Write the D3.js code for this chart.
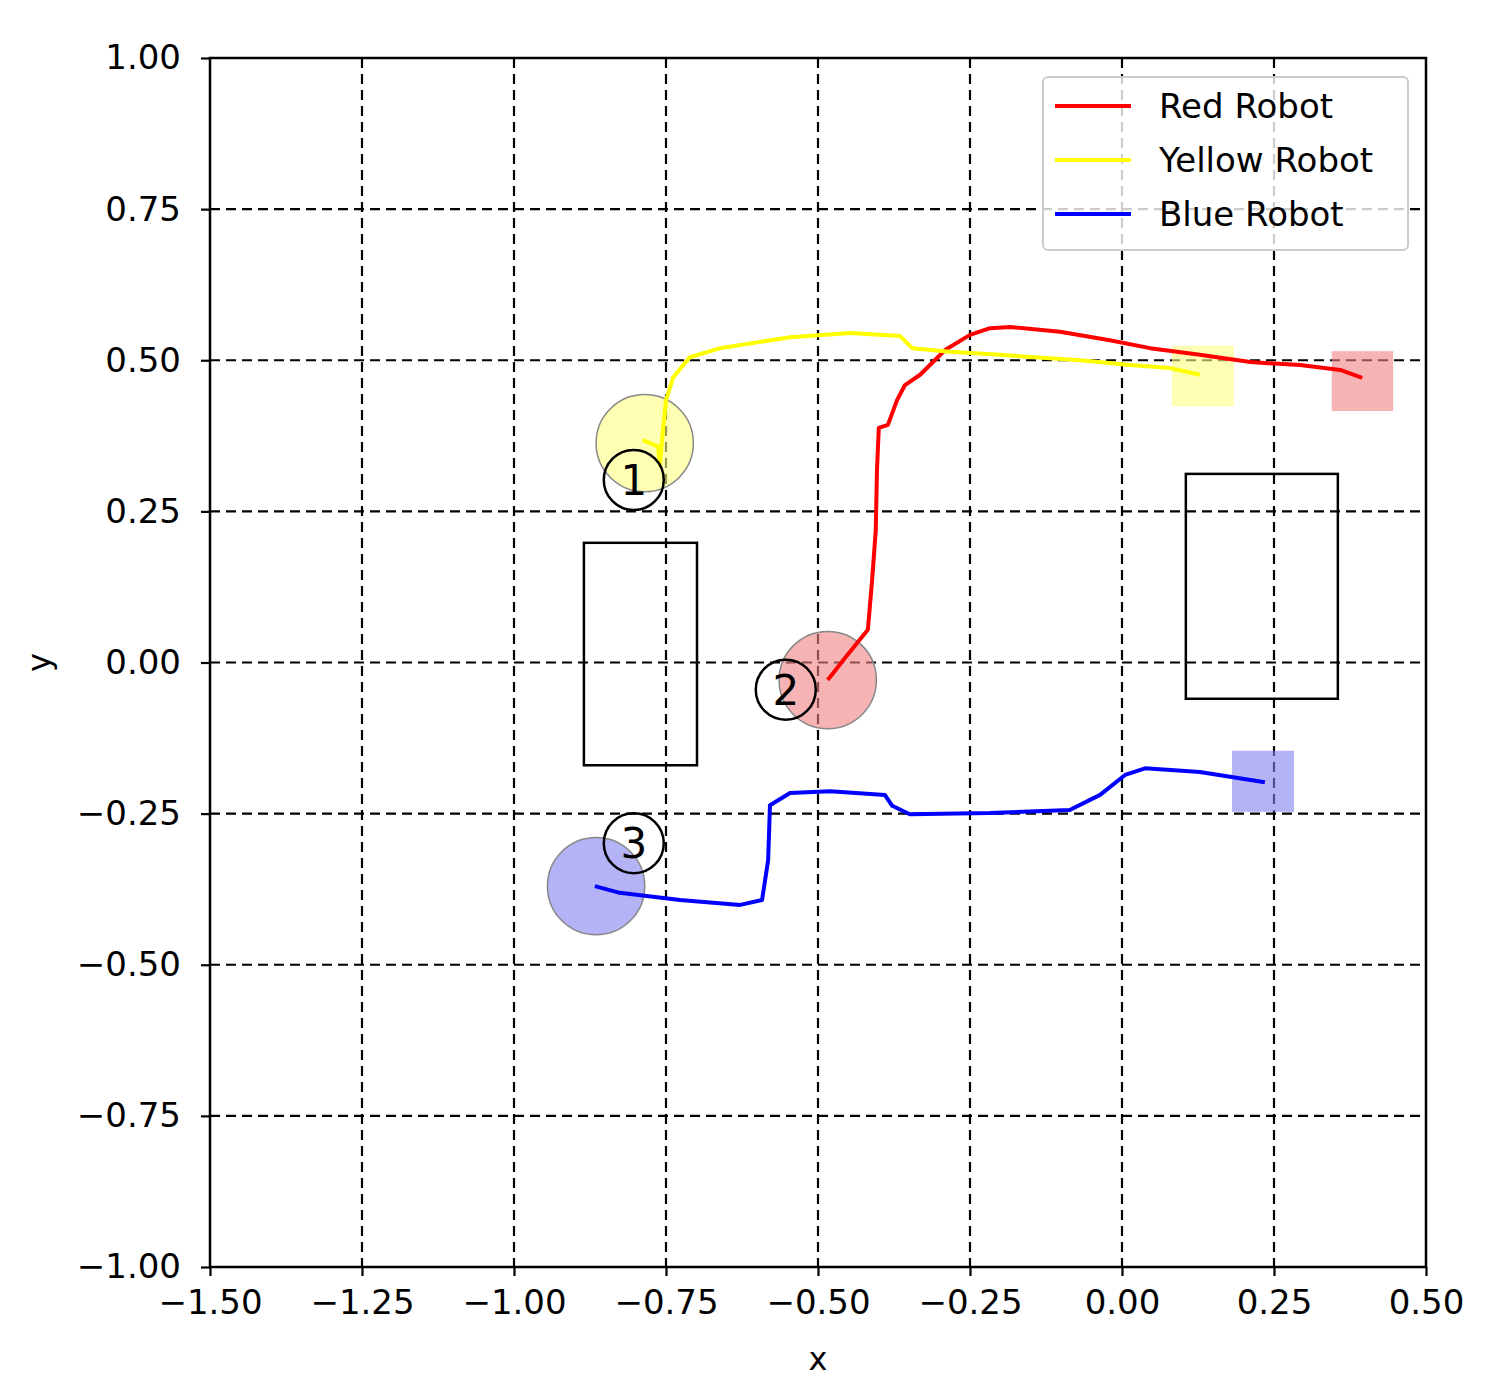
<!DOCTYPE html>
<html><head><meta charset="utf-8">
<script src="https://cdn.jsdelivr.net/npm/d3@7"></script>
<style>body{margin:0;background:#fff}svg{font-family:"DejaVu Sans",sans-serif}</style>
</head><body><div id="chart"></div>
<script>
const W = 1491, H = 1397;
const xTicks = [-1.5, -1.25, -1.0, -0.75, -0.5, -0.25, 0.0, 0.25, 0.5];
const yTicks = [-1.0, -0.75, -0.5, -0.25, 0.0, 0.25, 0.5, 0.75, 1.0];

const redPath = [[-0.484,-0.029],[-0.456,0.007],[-0.418,0.054],[-0.411,0.136],[-0.405,0.219],[-0.403,0.318],[-0.400,0.388],[-0.385,0.393],[-0.370,0.434],[-0.357,0.459],[-0.332,0.476],[-0.291,0.517],[-0.250,0.542],[-0.217,0.553],[-0.184,0.555],[-0.102,0.547],[-0.020,0.533],[0.046,0.520],[0.128,0.509],[0.211,0.497],[0.293,0.492],[0.359,0.484],[0.395,0.471]];
const yellowPath = [[-0.788,0.368],[-0.763,0.357],[-0.760,0.327],[-0.755,0.385],[-0.750,0.434],[-0.738,0.472],[-0.711,0.505],[-0.661,0.520],[-0.546,0.538],[-0.447,0.545],[-0.365,0.540],[-0.345,0.520],[-0.283,0.514],[-0.201,0.509],[-0.069,0.500],[0.013,0.492],[0.079,0.487],[0.128,0.476]];
const bluePath = [[-0.867,-0.370],[-0.826,-0.381],[-0.727,-0.393],[-0.628,-0.401],[-0.592,-0.393],[-0.582,-0.327],[-0.579,-0.236],[-0.546,-0.216],[-0.480,-0.213],[-0.390,-0.219],[-0.378,-0.237],[-0.349,-0.251],[-0.217,-0.249],[-0.086,-0.244],[-0.036,-0.219],[0.005,-0.186],[0.038,-0.175],[0.128,-0.181],[0.235,-0.198]];

const robots = ['Red Robot', 'Yellow Robot', 'Blue Robot'];
const colors = ['#ff0000', '#ffff00', '#0000ff'];
const fills = ['#f08080', '#ffff80', '#8080f0'];
const starts = [[-0.484,-0.029],[-0.785,0.363],[-0.865,-0.370]];
const goals = [[0.345,0.446,0.416,0.515],[0.082,0.184,0.424,0.524],[0.181,0.283,-0.247,-0.146]];
const obstacles = [[-0.885,-0.699,-0.170,0.198],[0.105,0.355,-0.060,0.312]];
const markers = [['1',-0.803,0.302],['2',-0.553,-0.045],['3',-0.803,-0.299]];

const m = {l: 210, r: 65, t: 58, b: 130};
const svg = d3.select('#chart').append('svg').attr('width', W).attr('height', H);
const x = d3.scaleLinear().domain([-1.5, 0.5]).range([m.l, W - m.r]);
const y = d3.scaleLinear().domain([-1, 1]).range([H - m.b, m.t]);

// grid
svg.append('g').selectAll('line').data(xTicks.slice(1, -1)).join('line')
  .attr('x1', d => x(d)).attr('x2', d => x(d)).attr('y1', y(1)).attr('y2', y(-1))
  .attr('stroke', '#000').attr('stroke-width', 2.2).attr('stroke-dasharray', '10,6');
svg.append('g').selectAll('line').data(yTicks.slice(1, -1)).join('line')
  .attr('y1', d => y(d)).attr('y2', d => y(d)).attr('x1', x(-1.5)).attr('x2', x(0.5))
  .attr('stroke', '#000').attr('stroke-width', 2.2).attr('stroke-dasharray', '10,6');

// goals & start discs
svg.append('g').selectAll('rect').data(goals).join('rect')
  .attr('x', d => x(d[0])).attr('width', d => x(d[1]) - x(d[0]))
  .attr('y', d => y(d[3])).attr('height', d => y(d[2]) - y(d[3]))
  .attr('fill', (d, i) => fills[i]).attr('opacity', 0.6);
svg.append('g').selectAll('circle').data(starts).join('circle')
  .attr('cx', d => x(d[0])).attr('cy', d => y(d[1])).attr('r', x(0.08) - x(0))
  .attr('fill', (d, i) => fills[i]).attr('fill-opacity', 0.6).attr('stroke', '#888').attr('stroke-width', 1.5);

// obstacles
svg.append('g').selectAll('rect').data(obstacles).join('rect')
  .attr('x', d => x(d[0])).attr('width', d => x(d[1]) - x(d[0]))
  .attr('y', d => y(d[3])).attr('height', d => y(d[2]) - y(d[3]))
  .attr('fill', 'none').attr('stroke', '#000').attr('stroke-width', 2.5);

// paths
const line = d3.line().x(d => x(d[0])).y(d => y(d[1]));
[redPath, yellowPath, bluePath].forEach((p, i) => {
  svg.append('path').datum(p).attr('d', line).attr('fill', 'none')
    .attr('stroke', colors[i]).attr('stroke-width', 4).attr('stroke-linejoin', 'round');
});

// numbered markers
const mk = svg.append('g').selectAll('g').data(markers).join('g')
  .attr('transform', d => `translate(${x(d[1])},${y(d[2])})`);
mk.append('circle').attr('r', 30).attr('fill', 'none').attr('stroke', '#000').attr('stroke-width', 2.5);
mk.append('text').text(d => d[0]).attr('text-anchor', 'middle').attr('dy', '0.36em')
  .attr('font-size', 42);

// axes
const xAxis = svg.append('g').attr('transform', `translate(0,${y(-1)})`)
  .call(d3.axisBottom(x).tickValues(xTicks).tickSize(9).tickPadding(14));
const yAxis = svg.append('g').attr('transform', `translate(${x(-1.5)},0)`)
  .call(d3.axisLeft(y).tickValues(yTicks).tickSize(9).tickPadding(20));
[xAxis, yAxis].forEach(a => {
  a.selectAll('text').attr('font-size', 34).attr('fill', '#000').attr('font-family', '"DejaVu Sans",sans-serif')
    .text(d => d3.format('.2f')(d).replace('-', '\u2212'));
  a.selectAll('line').attr('stroke-width', 2.2);
  a.select('.domain').remove();
});
svg.append('rect').attr('x', x(-1.5)).attr('y', y(1)).attr('width', x(0.5) - x(-1.5)).attr('height', y(-1) - y(1))
  .attr('fill', 'none').attr('stroke', '#000').attr('stroke-width', 2.5);

svg.append('text').text('x').attr('x', (x(-1.5) + x(0.5)) / 2).attr('y', 1370).attr('text-anchor', 'middle').attr('font-size', 32);
svg.append('text').text('y').attr('transform', `translate(50,${(y(1) + y(-1)) / 2}) rotate(-90)`).attr('text-anchor', 'middle').attr('font-size', 32);

// legend
const lg = svg.append('g').attr('transform', 'translate(1043,77)');
lg.append('rect').attr('width', 365).attr('height', 173).attr('rx', 5)
  .attr('fill', '#fff').attr('fill-opacity', 0.8).attr('stroke', '#ccc').attr('stroke-width', 2);
robots.forEach((r, i) => {
  const yy = 29 + i * 54;
  lg.append('line').attr('x1', 12).attr('x2', 88).attr('y1', yy).attr('y2', yy).attr('stroke', colors[i]).attr('stroke-width', 4);
  lg.append('text').text(r).attr('x', 116).attr('y', yy).attr('dy', '0.36em').attr('font-size', 34);
});
</script></body></html>
